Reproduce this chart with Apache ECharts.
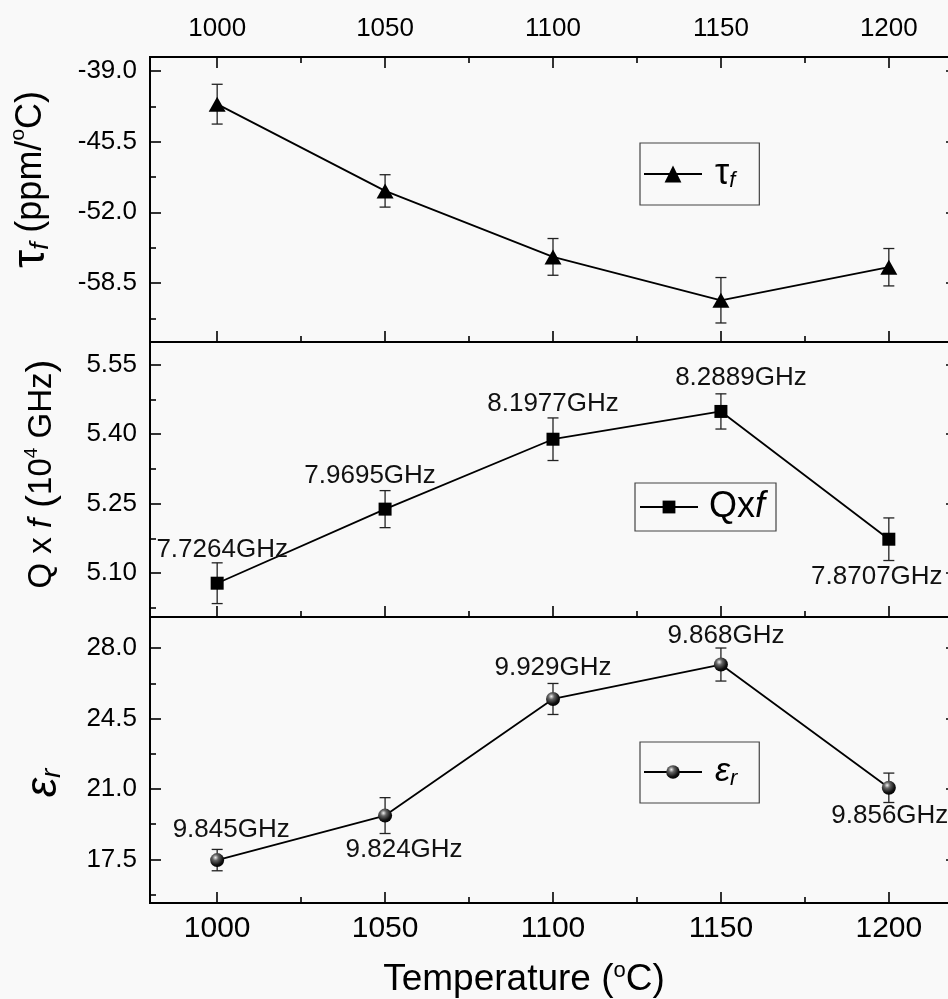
<!DOCTYPE html>
<html>
<head>
<meta charset="utf-8">
<script src="https://cdn.jsdelivr.net/npm/echarts@6/dist/echarts.min.js"></script>
<style>
  html, body { margin: 0; padding: 0; background: #f9f9f9; }
  #chart { width: 948px; height: 999px; }
</style>
</head>
<body>
<div id="chart"></div>
<script>
  // sintering temperature (°C)
  var temps = [1000, 1050, 1100, 1150, 1200];

  // tau_f (ppm/°C) with error
  var tauF = [-42.05, -50.03, -56.1, -60.09, -57.05];
  var tauFErr = [1.83, 1.49, 1.69, 2.09, 1.72];

  // Q x f (10^4 GHz) with error and resonant frequency
  var qf = [5.078, 5.238, 5.389, 5.449, 5.173];
  var qfErr = [0.044, 0.040, 0.046, 0.038, 0.046];
  var qfFreq = ['7.7264GHz', '7.9695GHz', '8.1977GHz', '8.2889GHz', '7.8707GHz'];

  // epsilon_r with error and resonant frequency
  var epsR = [17.47, 19.68, 25.47, 27.18, 21.06];
  var epsRErr = [0.53, 0.89, 0.77, 0.82, 0.73];
  var epsFreq = ['9.845GHz', '9.824GHz', '9.929GHz', '9.868GHz', '9.856GHz'];

  // ticks
  var xTicks = [1000, 1050, 1100, 1150, 1200];
  var xMinor = [1025, 1075, 1125, 1175];
  var tauTicks = [-58.5, -52.0, -45.5, -39.0];
  var tauMinor = [-61.75, -55.25, -48.75, -42.25];
  var qfTicks = [5.10, 5.25, 5.40, 5.55];
  var qfMinor = [5.025, 5.175, 5.325, 5.475];
  var epsTicks = [17.5, 21.0, 24.5, 28.0];
  var epsMinor = [15.75, 19.25, 22.75, 26.25];

  var FONT = '"Liberation Sans", Arial, sans-serif';
  var X_RANGE = [980, 1220];
  var grids = [
    { left: 150, top: 57, width: 806, height: 285 },
    { left: 150, top: 342, width: 806, height: 275 },
    { left: 150, top: 617, width: 806, height: 286 }
  ];
  var yRanges = [[-63.93, -37.71], [5.005, 5.599], [15.34, 29.54]];

  // label offsets from marker centre (layout only)
  var qfLabelPos = [[5, -33], [-15, -33], [0, -35], [20, -34], [-12, 38]];
  var epsLabelPos = [[14, -30], [19, 34], [0, -31], [5, -29], [1, 28]];

  function xAxis(g, pos, values, len, label) {
    return {
      type: 'value', gridIndex: g, position: pos,
      min: X_RANGE[0], max: X_RANGE[1],
      axisLine: { show: false },
      splitLine: { show: false },
      axisTick: { show: true, inside: true, length: len, customValues: values,
        lineStyle: { color: '#000', width: 1.6 } },
      axisLabel: label ? Object.assign({ show: true, customValues: values,
        color: '#000', fontFamily: FONT,
        formatter: function (v) { return String(v); } }, label) : { show: false }
    };
  }

  function yAxis(g, pos, values, len, label) {
    return {
      type: 'value', gridIndex: g, position: pos,
      min: yRanges[g][0], max: yRanges[g][1],
      axisLine: { show: false },
      splitLine: { show: false },
      axisTick: { show: true, inside: true, length: len, customValues: values,
        lineStyle: { color: '#000', width: 1.6 } },
      axisLabel: label ? Object.assign({ show: true, customValues: values,
        color: '#000', fontFamily: FONT, fontSize: 26, margin: 13 }, label) : { show: false }
    };
  }

  var xAxes = [
    xAxis(0, 'top', xTicks, 11, { fontSize: 26, margin: 15 }),
    xAxis(0, 'top', xMinor, 6),
    xAxis(0, 'bottom', xTicks, 11),
    xAxis(0, 'bottom', xMinor, 6),
    xAxis(1, 'bottom', xTicks, 11),
    xAxis(1, 'bottom', xMinor, 6),
    Object.assign(xAxis(2, 'bottom', xTicks, 11, { fontSize: 30, margin: 11 }), {
      name: '{n|Temperature (}{sup|o}{n|C)}',
      nameLocation: 'middle', nameGap: 57,
      nameTextStyle: {
        padding: [0, 58, 0, 0],
        rich: {
          n: { fontSize: 37, fontFamily: FONT, color: '#000', lineHeight: 40 },
          sup: { fontSize: 22, fontFamily: FONT, color: '#000', verticalAlign: 'top', lineHeight: 22 }
        }
      }
    }),
    xAxis(2, 'bottom', xMinor, 6)
  ];

  var tauAxis = yAxis(0, 'left', tauTicks, 11, { formatter: function (v) { return v.toFixed(1); } });
  tauAxis.name = '{tau|τ}{sub|f}{n| (ppm/}{sup|o}{n|C)}';
  tauAxis.nameLocation = 'middle';
  tauAxis.nameGap = 96;
  tauAxis.nameTextStyle = {
    padding: [0, 0, 0, 40],
    rich: {
      tau: { fontSize: 46, fontFamily: FONT, color: '#000', lineHeight: 46 },
      sub: { fontSize: 26, fontFamily: FONT, fontStyle: 'italic', color: '#000', verticalAlign: 'bottom', lineHeight: 32 },
      n: { fontSize: 36, fontFamily: FONT, color: '#000', lineHeight: 46 },
      sup: { fontSize: 21, fontFamily: FONT, color: '#000', verticalAlign: 'top', lineHeight: 21 }
    }
  };

  var qfAxis = yAxis(1, 'left', qfTicks, 11, { formatter: function (v) { return v.toFixed(2); } });
  qfAxis.name = '{n|Q x }{it|f}{p| (}{n|10}{sup|4}{n| GHz}{p|)}';
  qfAxis.nameLocation = 'middle';
  qfAxis.nameGap = 88;
  qfAxis.nameTextStyle = {
    padding: [0, 0, 0, 11],
    rich: {
      n: { fontSize: 33, fontFamily: FONT, color: '#000', lineHeight: 40 },
      it: { fontSize: 33, fontFamily: FONT, fontStyle: 'italic', color: '#000', lineHeight: 40 },
      p: { fontSize: 39, fontFamily: FONT, color: '#000', lineHeight: 40 },
      sup: { fontSize: 19, fontFamily: FONT, color: '#000', verticalAlign: 'top', lineHeight: 19 }
    }
  };

  var epsAxis = yAxis(2, 'left', epsTicks, 11, { formatter: function (v) { return v.toFixed(1); } });
  epsAxis.name = '{e|ε}{sub|r}';
  epsAxis.nameLocation = 'middle';
  epsAxis.nameGap = 84;
  epsAxis.nameTextStyle = {
    padding: [0, 46, 0, 0],
    rich: {
      e: { fontSize: 44, fontFamily: FONT, fontStyle: 'italic', color: '#000', lineHeight: 44 },
      sub: { fontSize: 28, fontFamily: FONT, fontStyle: 'italic', color: '#000', verticalAlign: 'bottom', lineHeight: 34 }
    }
  };

  var yAxes = [
    tauAxis, yAxis(0, 'left', tauMinor, 6), yAxis(0, 'right', tauTicks, 10),
    qfAxis, yAxis(1, 'left', qfMinor, 6), yAxis(1, 'right', qfTicks, 10),
    epsAxis, yAxis(2, 'left', epsMinor, 6), yAxis(2, 'right', epsTicks, 10)
  ];

  function errorBars(xi, yi, vals, errs) {
    return {
      type: 'custom', xAxisIndex: xi, yAxisIndex: yi, z: 1,
      encode: { x: 0, y: [1, 2] },
      data: temps.map(function (t, i) { return [t, vals[i] - errs[i], vals[i] + errs[i]]; }),
      renderItem: function (params, api) {
        var top = api.coord([api.value(0), api.value(2)]);
        var bot = api.coord([api.value(0), api.value(1)]);
        var w = 5.5;
        var st = { stroke: '#222', lineWidth: 1.3 };
        return {
          type: 'group',
          children: [
            { type: 'line', shape: { x1: top[0], y1: top[1], x2: bot[0], y2: bot[1] }, style: st },
            { type: 'line', shape: { x1: top[0] - w, y1: top[1], x2: top[0] + w, y2: top[1] }, style: st },
            { type: 'line', shape: { x1: bot[0] - w, y1: bot[1], x2: bot[0] + w, y2: bot[1] }, style: st }
          ]
        };
      }
    };
  }

  function pointData(vals, pos) {
    return temps.map(function (t, i) {
      var d = { value: [t, vals[i]] };
      if (pos) d.label = { offset: pos[i] };
      return d;
    });
  }

  function freqLabel(texts) {
    return {
      show: true, position: 'inside', color: '#111',
      fontFamily: FONT, fontSize: 26,
      formatter: function (p) { return texts[p.dataIndex]; }
    };
  }

  var sphere = {
    type: 'radial', x: 0.38, y: 0.32, r: 0.7,
    colorStops: [
      { offset: 0, color: '#f0f0f0' },
      { offset: 0.3, color: '#666' },
      { offset: 0.75, color: '#111' },
      { offset: 1, color: '#000' }
    ]
  };

  var lineBase = {
    type: 'line', z: 3,
    lineStyle: { color: '#000', width: 1.8 },
    emphasis: { disabled: true },
    animation: false
  };

  var series = [
    errorBars(0, 0, tauF, tauFErr),
    Object.assign({}, lineBase, {
      name: 'τf', xAxisIndex: 0, yAxisIndex: 0,
      symbol: 'triangle', symbolSize: [17, 15],
      itemStyle: { color: '#000' },
      data: pointData(tauF)
    }),
    errorBars(4, 3, qf, qfErr),
    Object.assign({}, lineBase, {
      name: 'Qxf', xAxisIndex: 4, yAxisIndex: 3,
      symbol: 'rect', symbolSize: 13,
      itemStyle: { color: '#000' },
      label: freqLabel(qfFreq),
      data: pointData(qf, qfLabelPos)
    }),
    errorBars(6, 6, epsR, epsRErr),
    Object.assign({}, lineBase, {
      name: 'εr', xAxisIndex: 6, yAxisIndex: 6,
      symbol: 'circle', symbolSize: 14,
      itemStyle: { color: sphere },
      label: freqLabel(epsFreq),
      data: pointData(epsR, epsLabelPos)
    })
  ];

  function legend(name, left, top, itemHeight, padding, text, rich) {
    return {
      data: [name], left: left, top: top, orient: 'horizontal',
      itemWidth: 58, itemHeight: itemHeight,
      borderColor: '#444', borderWidth: 1.2, borderRadius: 0,
      padding: padding, selectedMode: false,
      formatter: function () { return text; },
      textStyle: { fontFamily: FONT, color: '#000', rich: rich }
    };
  }

  var chart = echarts.init(document.getElementById('chart'), null, { renderer: 'canvas' });
  chart.setOption({
    backgroundColor: '#f9f9f9',
    animation: false,
    grid: grids.map(function (g) {
      return Object.assign({ show: true, borderColor: '#000', borderWidth: 2,
        backgroundColor: 'transparent', containLabel: false, outerBoundsMode: 'none' }, g);
    }),
    xAxis: xAxes,
    yAxis: yAxes,
    legend: [
      legend('τf', 640, 143, 21, [13, 24, 13, 3], '{a|τ}{b|f}', {
        a: { fontSize: 36, fontFamily: FONT, color: '#000', padding: [0, 0, 0, 8], lineHeight: 36 },
        b: { fontSize: 22, fontFamily: FONT, fontStyle: 'italic', color: '#000', verticalAlign: 'bottom', lineHeight: 28 }
      }),
      legend('Qxf', 635, 483, 16, [6, 11, 6, 4], '{a|Qx}{i|f}', {
        a: { fontSize: 36, fontFamily: FONT, color: '#000', padding: [0, 0, 0, 6], lineHeight: 36 },
        i: { fontSize: 36, fontFamily: FONT, fontStyle: 'italic', color: '#000', lineHeight: 36 }
      }),
      legend('εr', 640, 742, 17, [13, 22, 13, 3], '{a|ε}{b|r}', {
        a: { fontSize: 34, fontFamily: FONT, fontStyle: 'italic', color: '#000', padding: [0, 0, 0, 8], lineHeight: 36 },
        b: { fontSize: 22, fontFamily: FONT, fontStyle: 'italic', color: '#000', verticalAlign: 'bottom', lineHeight: 30 }
      })
    ],
    series: series
  });
</script>
</body>
</html>
